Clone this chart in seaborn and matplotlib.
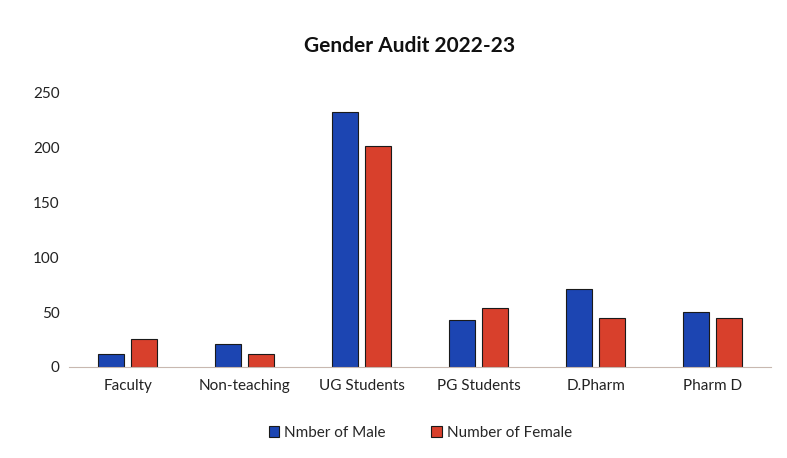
import pandas as pd
import matplotlib.pyplot as plt
import seaborn as sns

categories = ["Faculty", "Non-teaching", "UG Students", "PG Students", "D.Pharm", "Pharm D"]
male = [12, 21, 233, 43, 71, 50]
female = [25, 12, 202, 54, 45, 45]
series = ["Nmber of Male", "Number of Female"]

df = pd.DataFrame({
    "Category": categories * 2,
    "Count": male + female,
    "Series": [series[0]] * len(categories) + [series[1]] * len(categories),
})

sns.set_style("white")
plt.rcParams["font.family"] = ["Lato", "DejaVu Sans"]

fig = plt.figure(figsize=(7.87, 4.58), dpi=100)
ax = fig.add_axes([0.088, 0.199, 0.892, 0.598])

sns.barplot(data=df, x="Category", y="Count", hue="Series",
            palette=["#1c45b2", "#d8402c"], saturation=1, width=0.56, gap=0.2,
            edgecolor="#1a1a1a", linewidth=0.8, ax=ax)

ax.set_ylim(0, 250)
ax.set_xlim(-0.5, 5.5)
ax.set_yticks([0, 50, 100, 150, 200, 250])
ax.set_xlabel("")
ax.set_ylabel("")
ax.tick_params(axis="both", length=0, labelsize=11, colors="#222222")
ax.tick_params(axis="y", pad=7)
ax.tick_params(axis="x", pad=9)
for s in ["top", "right", "left"]:
    ax.spines[s].set_visible(False)
ax.spines["bottom"].set_color("#c8b8b0")
ax.spines["bottom"].set_linewidth(0.8)

fig.text(0.52, 0.90, "Gender Audit 2022-23", ha="center", va="center",
         fontsize=15, fontweight="bold", color="#111111")

ax.legend(loc="center", bbox_to_anchor=(0.5, -0.24), ncol=2, frameon=False,
          fontsize=11, handlelength=0.7, handleheight=0.7, handletextpad=0.3,
          columnspacing=3)

fig.savefig("out.png", dpi=100, facecolor="white")
